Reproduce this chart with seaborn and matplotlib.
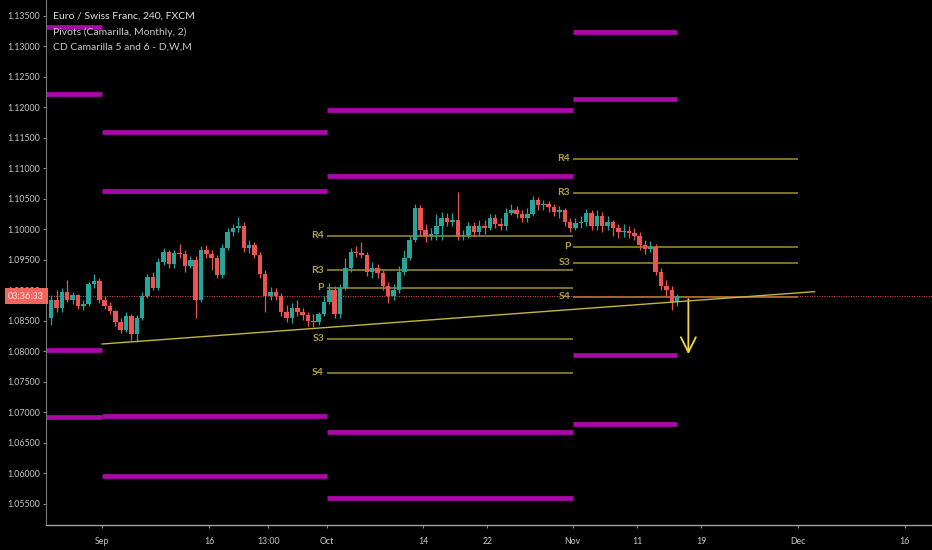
import matplotlib
matplotlib.use('Agg')
import matplotlib.pyplot as plt
import matplotlib.transforms as mtransforms
import numpy as np
import pandas as pd
import seaborn as sns

# EUR/CHF, resampled to 12h candles. x is measured in trading days from Sep 2.
bar_start = -5.0
bar_step = 0.5

opens = [1.08544, 1.08839, 1.08708, 1.08971, 1.08839, 1.08921, 1.08741, 1.08774, 1.09102, 1.09151,
         1.08839, 1.08741, 1.08659, 1.08479, 1.08348, 1.08577, 1.08282, 1.08544, 1.08905, 1.09217,
         1.09036, 1.09463, 1.09627, 1.09430, 1.09610, 1.09594, 1.09397, 1.09495, 1.08839, 1.09659,
         1.09594, 1.09528, 1.09249, 1.09692, 1.09954, 1.10020, 1.10053, 1.09692, 1.09741, 1.09577,
         1.09266, 1.08905, 1.08971, 1.08905, 1.08643, 1.08544, 1.08708, 1.08643, 1.08593, 1.08495,
         1.08479, 1.08610, 1.08807, 1.09003, 1.08610, 1.09036, 1.09364, 1.09627, 1.09610, 1.09577,
         1.09299, 1.09364, 1.09282, 1.09069, 1.08905, 1.09003, 1.09299, 1.09528, 1.09823, 1.10348,
         1.09987, 1.09889, 1.09922, 1.10053, 1.10184, 1.10118, 1.10151, 1.09889, 1.09905, 1.10053,
         1.09954, 1.10053, 1.10020, 1.10184, 1.10085, 1.10053, 1.10266, 1.10315, 1.10249, 1.10184,
         1.10249, 1.10479, 1.10397, 1.10413, 1.10364, 1.10282, 1.10315, 1.10118, 1.10020, 1.10102,
         1.10118, 1.10266, 1.10053, 1.10217, 1.10053, 1.10118, 1.10020, 1.09954, 1.09971, 1.09938,
         1.09889, 1.09741, 1.09676, 1.09709, 1.09299, 1.09069, 1.09003, 1.08807]
highs = [1.08921, 1.09003, 1.09036, 1.09167, 1.08971, 1.08938, 1.08839, 1.09135, 1.09266, 1.09200,
         1.08905, 1.08807, 1.08675, 1.08544, 1.08643, 1.08610, 1.08593, 1.08971, 1.09266, 1.09299,
         1.09528, 1.09692, 1.09659, 1.09659, 1.09758, 1.09659, 1.09561, 1.09561, 1.09725, 1.09741,
         1.09659, 1.09577, 1.09758, 1.10020, 1.10085, 1.10200, 1.10118, 1.09823, 1.09790, 1.09627,
         1.09331, 1.09053, 1.09036, 1.08954, 1.08757, 1.08790, 1.08839, 1.08708, 1.08643, 1.08610,
         1.08643, 1.08905, 1.09118, 1.09069, 1.09102, 1.09528, 1.09692, 1.09725, 1.09790, 1.09627,
         1.09463, 1.09430, 1.09331, 1.09135, 1.09102, 1.09397, 1.09659, 1.09889, 1.10413, 1.10397,
         1.10085, 1.10020, 1.10249, 1.10282, 1.10266, 1.10266, 1.10610, 1.09987, 1.10118, 1.10118,
         1.10151, 1.10151, 1.10249, 1.10249, 1.10184, 1.10348, 1.10413, 1.10381, 1.10315, 1.10348,
         1.10544, 1.10528, 1.10479, 1.10463, 1.10413, 1.10381, 1.10348, 1.10184, 1.10184, 1.10217,
         1.10331, 1.10315, 1.10315, 1.10282, 1.10217, 1.10151, 1.10085, 1.10085, 1.10053, 1.10020,
         1.09954, 1.09823, 1.09807, 1.09758, 1.09364, 1.09167, 1.09069, 1.08938]
lows = [1.08429, 1.08643, 1.08643, 1.08807, 1.08774, 1.08692, 1.08675, 1.08741, 1.09036, 1.08790,
        1.08692, 1.08610, 1.08413, 1.08298, 1.08315, 1.08184, 1.08151, 1.08511, 1.08872, 1.09003,
        1.09003, 1.09413, 1.09364, 1.09364, 1.09528, 1.09299, 1.09364, 1.08544, 1.08807, 1.09528,
        1.09331, 1.09200, 1.09200, 1.09659, 1.09889, 1.09954, 1.09627, 1.09610, 1.09528, 1.09200,
        1.08643, 1.08839, 1.08839, 1.08577, 1.08479, 1.08462, 1.08577, 1.08511, 1.08413, 1.08397,
        1.08429, 1.08577, 1.08774, 1.08544, 1.08544, 1.09003, 1.09299, 1.09545, 1.09528, 1.09233,
        1.09200, 1.09200, 1.09003, 1.08790, 1.08839, 1.08954, 1.09249, 1.09495, 1.09790, 1.09889,
        1.09790, 1.09823, 1.09823, 1.09823, 1.10053, 1.10053, 1.09823, 1.09823, 1.09856, 1.09889,
        1.09889, 1.09922, 1.09987, 1.10020, 1.09987, 1.09987, 1.10233, 1.10184, 1.10118, 1.10118,
        1.10217, 1.10315, 1.10315, 1.10282, 1.10217, 1.10184, 1.10053, 1.09954, 1.09987, 1.10020,
        1.10053, 1.09987, 1.09987, 1.09954, 1.09987, 1.09889, 1.09856, 1.09872, 1.09856, 1.09823,
        1.09659, 1.09594, 1.09627, 1.09249, 1.09003, 1.08905, 1.08675, 1.08741]
closes = [1.08839, 1.08708, 1.08971, 1.08839, 1.08921, 1.08741, 1.08774, 1.09102, 1.09151, 1.08839,
          1.08741, 1.08659, 1.08479, 1.08348, 1.08577, 1.08282, 1.08544, 1.08905, 1.09217, 1.09036,
          1.09463, 1.09627, 1.09430, 1.09610, 1.09594, 1.09397, 1.09495, 1.08839, 1.09659, 1.09594,
          1.09528, 1.09249, 1.09692, 1.09954, 1.10020, 1.10053, 1.09692, 1.09741, 1.09577, 1.09266,
          1.08905, 1.08971, 1.08905, 1.08643, 1.08544, 1.08708, 1.08643, 1.08593, 1.08495, 1.08479,
          1.08610, 1.08807, 1.09003, 1.08610, 1.09036, 1.09364, 1.09627, 1.09610, 1.09577, 1.09299,
          1.09364, 1.09282, 1.09069, 1.08905, 1.09003, 1.09299, 1.09528, 1.09823, 1.10348, 1.09987,
          1.09889, 1.09922, 1.10053, 1.10184, 1.10118, 1.10151, 1.09889, 1.09905, 1.10053, 1.09954,
          1.10053, 1.10020, 1.10184, 1.10085, 1.10053, 1.10266, 1.10315, 1.10249, 1.10184, 1.10249,
          1.10479, 1.10397, 1.10413, 1.10364, 1.10282, 1.10315, 1.10118, 1.10020, 1.10102, 1.10118,
          1.10266, 1.10053, 1.10217, 1.10053, 1.10118, 1.10020, 1.09954, 1.09971, 1.09938, 1.09889,
          1.09741, 1.09676, 1.09709, 1.09299, 1.09069, 1.09003, 1.08807, 1.08905]

tick_pos = [0, 10, 15.54, 21, 30, 36, 44, 50, 56, 65, 75]
tick_labels = ['Sep', '16', '13:00', 'Oct', '14', '22', 'Nov', '11', '19', 'Dec', '16']

# CD Camarilla 5 and 6 (monthly) - Aug, Sep, Oct, Nov
month_bounds = [-5.25, 0, 21, 44, 53.75]
cd_levels = [[1.13320, 1.12211, 1.08020, 1.06922],
             [1.11594, 1.10627, 1.06938, 1.05955],
             [1.11954, 1.10872, 1.06675, 1.05589],
             [1.13233, 1.12134, 1.07938, 1.06807]]

# Pivots (Camarilla, Monthly) - Oct and Nov
piv_names = ['R4', 'R3', 'P', 'S3', 'S4']
piv_spans = [(21, 44), (44, 65)]
piv_levels = [[1.09889, 1.09331, 1.09036, 1.08200, 1.07643],
              [1.11151, 1.10594, 1.09709, 1.09446, 1.08889]]

trend_x = [0, 66.6]
trend_y = [1.08118, 1.08976]
last_price = 1.08900
arrow_x = 54.8
arrow_to = 1.07905

sns.set_theme(style='dark', rc={'axes.facecolor': 'black', 'figure.facecolor': 'black',
                                'axes.grid': False})
plt.rcParams['font.family'] = ['Lato', 'DejaVu Sans']

fig = plt.figure(figsize=(9.32, 5.5), dpi=100)
ax = fig.add_axes([46/932, 25/550, 1 - 46/932, 1 - 25/550])

df = pd.DataFrame({'open': opens, 'high': highs, 'low': lows, 'close': closes})
df['t'] = bar_start + bar_step * np.arange(len(df)) + bar_step / 2
colors = np.where(df['close'] >= df['open'], '#26a69a', '#ef5350')

ax.vlines(df['t'], df['low'], df['high'], colors=colors, lw=0.9, zorder=3)
body = (df['close'] - df['open']).abs().clip(lower=0.00004)
ax.bar(df['t'], body, bottom=df[['open', 'close']].min(axis=1), width=0.42,
       color=colors, linewidth=0, zorder=3)

# magenta monthly levels
rows = []
for m, lvls in enumerate(cd_levels):
    for j, v in enumerate(lvls):
        rows.append((f'{m}-{j}', month_bounds[m], v))
        rows.append((f'{m}-{j}', month_bounds[m + 1], v))
seg = pd.DataFrame(rows, columns=['seg', 'x', 'y'])
sns.lineplot(data=seg, x='x', y='y', units='seg', estimator=None, sort=False,
             color='#aa08aa', lw=3.4, ax=ax, legend=False, solid_capstyle='butt')

# camarilla pivots
rows = []
for k, (x0, x1) in enumerate(piv_spans):
    for name, v in zip(piv_names, piv_levels[k]):
        rows.append((f'{k}-{name}', x0, v))
        rows.append((f'{k}-{name}', x1, v))
        ax.text(x0 - 0.25, v, name, ha='right', va='center', fontsize=7.5,
                fontweight='bold', color='#b3a23a')
piv = pd.DataFrame(rows, columns=['seg', 'x', 'y'])
sns.lineplot(data=piv, x='x', y='y', units='seg', estimator=None, sort=False,
             color='#9f922e', lw=1.1, ax=ax, legend=False, solid_capstyle='butt')

ax.plot(trend_x, trend_y, color='#c4b53b', lw=1.0, zorder=4)
ax.axhline(last_price, color='#ef5350', lw=0.7, ls=(0, (1, 1.5)), zorder=2)
ax.annotate('', xy=(arrow_x, arrow_to), xytext=(arrow_x, last_price),
            arrowprops=dict(arrowstyle='->,head_length=0.9,head_width=0.45',
                            color='#f5d742', lw=1.3))

trans = mtransforms.blended_transform_factory(ax.transAxes, ax.transData)
ax.text(-0.002, last_price, '03:36:33', transform=trans, ha='right', va='center',
        fontsize=6.5, color='#fbe3e1', clip_on=False, zorder=10,
        bbox=dict(boxstyle='square,pad=0.4', fc='#f0665e', ec='none'))

fig.text(53/932, 1 - 16/550, 'Euro / Swiss Franc, 240, FXCM', va='center',
         fontsize=7.5, color='#e0e0e0')
fig.text(53/932, 1 - 32/550, 'Pivots (Camarilla, Monthly, 2)', va='center',
         fontsize=7.5, color='#c8c8c8')
fig.text(53/932, 1 - 47/550, 'CD Camarilla 5 and 6 - D,W,M', va='center',
         fontsize=7.5, color='#c8c8c8')

ax.set_xlim(-5.234, 77.57)
ax.set_ylim(1.05151, 1.13757)
ax.set_yticks(np.arange(1.055, 1.1351, 0.005))
ax.yaxis.set_major_formatter(matplotlib.ticker.FormatStrFormatter('%.5f'))
ax.set_xticks(tick_pos)
ax.set_xticklabels(tick_labels)
ax.set_xlabel('')
ax.set_ylabel('')
ax.tick_params(axis='y', colors='#8a8a8a', labelcolor='#c8c8c8', labelsize=6.3,
               length=2, width=0.8, pad=2, left=True)
ax.tick_params(axis='x', colors='#8a8a8a', labelcolor='#c8c8c8', labelsize=6.3,
               length=2, width=0.8, pad=7, bottom=True)
for s in ['top', 'right']:
    ax.spines[s].set_visible(False)
ax.spines['left'].set_color('#777777')
ax.spines['left'].set_linewidth(0.8)
ax.spines['bottom'].set_color('#a0a0a0')
ax.spines['bottom'].set_linewidth(1.0)

fig.savefig('out.png', dpi=100, facecolor='black')
